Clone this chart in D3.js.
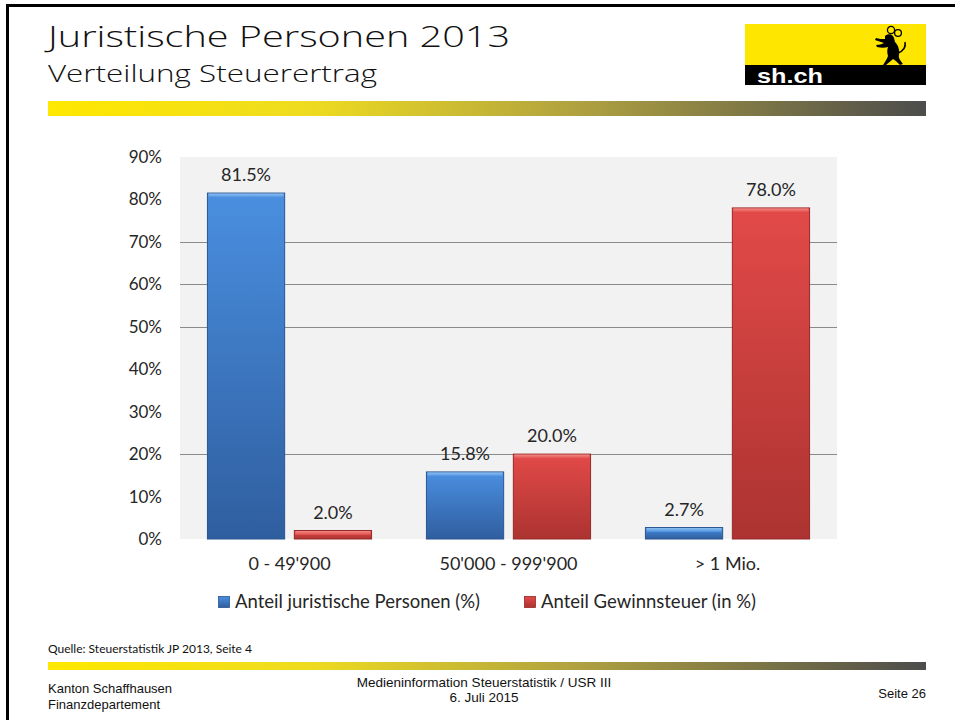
<!DOCTYPE html>
<html>
<head>
<meta charset="utf-8">
<script src="https://cdn.jsdelivr.net/npm/d3@7"></script>
<style>
  html, body { margin: 0; padding: 0; background: #fff; }
  svg { display: block; }
</style>
</head>
<body>
<script>
// Tax-yield distribution of legal entities, canton of Schaffhausen 2013
const categories = ["0 - 49'900", "50'000 - 999'900", "> 1 Mio."];
const seriesNames = ["Anteil juristische Personen (%)", "Anteil Gewinnsteuer (in %)"];
const shareEntities = [81.5, 15.8, 2.7];
const shareProfitTax = [2.0, 20.0, 78.0];
const yTicks = [0, 10, 20, 30, 40, 50, 60, 70, 80, 90];
const gridValues = [20, 50, 60, 70];

const W = 955, H = 720;
const svg = d3.select("body").append("svg").attr("width", W).attr("height", H);
const defs = svg.append("defs");

function grad(id, stops, horizontal) {
  const g = defs.append("linearGradient").attr("id", id)
    .attr("x1", 0).attr("y1", 0)
    .attr("x2", horizontal ? 1 : 0).attr("y2", horizontal ? 0 : 1);
  stops.forEach(([o, c]) => g.append("stop").attr("offset", o).attr("stop-color", c));
}
grad("band", [[0, "#ffe800"], [0.3, "#eedb20"], [0.6, "#b0a240"], [1, "#4c4c4c"]], true);
grad("blueBar", [[0, "#4a8fe0"], [1, "#2f5e9f"]]);
grad("redBar", [[0, "#e24a48"], [1, "#ac3331"]]);
grad("blueTop", [[0, "#8fc0f0"], [1, "#4a8fe0"]]);
grad("redTop", [[0, "#f28a86"], [1, "#e24a48"]]);

// slide frame
svg.append("rect").attr("x", 7.5).attr("y", 5.5).attr("width", W + 10).attr("height", H + 10)
  .attr("fill", "none").attr("stroke", "#000").attr("stroke-width", 3);

// header
const headFont = "'Open Sans', 'DejaVu Sans', sans-serif";
svg.append("text").attr("x", 48).attr("y", 47).attr("font-family", headFont)
  .attr("font-size", 29).attr("font-weight", 300).attr("fill", "#111")
  .attr("textLength", 462).attr("lengthAdjust", "spacingAndGlyphs").text("Juristische Personen 2013");
svg.append("text").attr("x", 48).attr("y", 82).attr("font-family", headFont)
  .attr("font-size", 24).attr("font-weight", 300).attr("fill", "#111")
  .attr("textLength", 329).attr("lengthAdjust", "spacingAndGlyphs").text("Verteilung Steuerertrag");
svg.append("rect").attr("x", 48).attr("y", 101).attr("width", 878).attr("height", 15).attr("fill", "url(#band)");

// logo
const logo = svg.append("g").attr("transform", "translate(745,24)");
logo.append("rect").attr("width", 181).attr("height", 41).attr("fill", "#ffe600");
logo.append("rect").attr("y", 41).attr("width", 181).attr("height", 20).attr("fill", "#000");
logo.append("text").attr("x", 12).attr("y", 59).attr("font-family", "'Liberation Sans', Arial, sans-serif")
  .attr("font-weight", "bold").attr("font-size", 21).attr("fill", "#fff")
  .attr("textLength", 66).attr("lengthAdjust", "spacingAndGlyphs").text("sh.ch");
// rearing ram emblem
const ram = logo.append("g");
ram.append("circle").attr("cx", 146).attr("cy", 6).attr("r", 3.6).attr("fill", "none")
  .attr("stroke", "#000").attr("stroke-width", 1.3);
ram.append("circle").attr("cx", 153).attr("cy", 9).attr("r", 3.4).attr("fill", "none")
  .attr("stroke", "#000").attr("stroke-width", 1.3);
ram.append("path").attr("fill", "#000").attr("d",
  "M140,12 C143,9 148,10 149,14 L150,18 C153,21 155,26 154,31 " +
  "C153,34 156,37 158,40 L155,41 C152,38 150,36 148,35 C146,37 143,39 141,41 L138,41 " +
  "C140,38 142,35 143,32 C142,29 142,26 143,23 C140,24 136,24 132,23 L131,21 " +
  "C134,21 137,20 139,19 C136,18 133,17 130,16 L131,14 C134,15 137,15 140,15 Z");
ram.append("path").attr("d", "M153,29 C158,27 161,23 160,18")
  .attr("fill", "none").attr("stroke", "#000").attr("stroke-width", 1.6);

// chart
const font = "Lato, 'Open Sans', 'Noto Sans', sans-serif";
const textCol = "#262626";
const plot = { left: 180, right: 837, top: 157, bottom: 539 };
const y = d3.scaleLinear().domain([0, 90]).range([plot.bottom, plot.top]);
const x0 = d3.scaleBand().domain(categories).range([plot.left, plot.right]).paddingInner(0.246).paddingOuter(0.123);
const x1 = d3.scaleBand().domain(seriesNames).range([0, x0.bandwidth()]).paddingInner(0.1);

svg.append("rect").attr("x", plot.left).attr("y", plot.top)
  .attr("width", plot.right - plot.left).attr("height", plot.bottom - plot.top).attr("fill", "#f2f2f2");

svg.append("g").selectAll("line").data(gridValues).join("line")
  .attr("x1", plot.left).attr("x2", plot.right)
  .attr("y1", d => Math.round(y(d)) + 0.5).attr("y2", d => Math.round(y(d)) + 0.5)
  .attr("stroke", "#8a8a8a").attr("stroke-width", 1);

const yAxis = svg.append("g").attr("transform", `translate(${plot.left - 18},0)`)
  .call(d3.axisLeft(y).tickValues(yTicks).tickFormat(d => d + "%").tickSize(0).tickPadding(0));
yAxis.select(".domain").remove();
yAxis.selectAll("text").attr("font-family", font).attr("font-size", 17).attr("fill", textCol);

const xAxis = svg.append("g").attr("transform", `translate(0,${plot.bottom})`)
  .call(d3.axisBottom(x0).tickSize(0).tickPadding(0));
xAxis.select(".domain").remove();
xAxis.selectAll("text").attr("font-family", font).attr("font-size", 18).attr("fill", textCol)
  .attr("y", 31).attr("dy", 0);

const rows = categories.map((c, i) => ({ c, vals: [shareEntities[i], shareProfitTax[i]] }));
const fills = ["blueBar", "redBar"], tops = ["blueTop", "redTop"], edges = ["#2a5590", "#962a28"];

const groups = svg.append("g").selectAll("g").data(rows).join("g")
  .attr("transform", d => `translate(${x0(d.c)},0)`);
const bars = groups.selectAll("g").data(d => d.vals.map((v, k) => ({ v, k }))).join("g")
  .attr("transform", d => `translate(${x1(seriesNames[d.k])},0)`);
bars.append("rect")
  .attr("x", 0.5).attr("y", d => y(d.v)).attr("width", x1.bandwidth() - 1)
  .attr("height", d => y(0) - y(d.v))
  .attr("fill", d => `url(#${fills[d.k]})`).attr("stroke", d => edges[d.k]).attr("stroke-width", 1);
bars.append("rect")
  .attr("x", 1.5).attr("y", d => y(d.v) + 0.5).attr("width", x1.bandwidth() - 3)
  .attr("height", d => Math.min(4, y(0) - y(d.v) - 1))
  .attr("fill", d => `url(#${tops[d.k]})`);
bars.append("text")
  .attr("x", x1.bandwidth() / 2).attr("y", d => y(d.v) - 12)
  .attr("text-anchor", "middle").attr("font-family", font).attr("font-size", 18).attr("fill", textCol)
  .text(d => d.v.toFixed(1) + "%");

// legend
const legend = svg.append("g").attr("transform", "translate(218,602)");
const legendX = [0, 306];
seriesNames.forEach((name, k) => {
  const g = legend.append("g").attr("transform", `translate(${legendX[k]},0)`);
  g.append("rect").attr("x", 0.5).attr("y", -5.5).attr("width", 11).attr("height", 11)
    .attr("fill", `url(#${fills[k]})`).attr("stroke", edges[k]).attr("stroke-width", 0.8);
  g.append("text").attr("x", 17).attr("y", 6)
    .attr("font-family", font).attr("font-size", 18.5).attr("fill", textCol).text(name);
});

// source and footer
svg.append("text").attr("x", 48).attr("y", 653).attr("font-family", font)
  .attr("font-size", 12).attr("fill", "#111").text("Quelle: Steuerstatistik JP 2013, Seite 4");
svg.append("rect").attr("x", 48).attr("y", 662).attr("width", 878).attr("height", 8).attr("fill", "url(#band)");

const foot = "'Liberation Sans', Arial, sans-serif";
const footText = (x, yy, t, anchor, size) => svg.append("text").attr("x", x).attr("y", yy)
  .attr("font-family", foot).attr("font-size", size || 13).attr("fill", "#111")
  .attr("text-anchor", anchor || "start").text(t);
footText(48, 693, "Kanton Schaffhausen");
footText(48, 709, "Finanzdepartement");
footText(484, 687, "Medieninformation Steuerstatistik / USR III", "middle", 13.5);
footText(484, 702, "6. Juli 2015", "middle", 13.5);
footText(926, 698, "Seite 26", "end");
</script>
</body>
</html>
